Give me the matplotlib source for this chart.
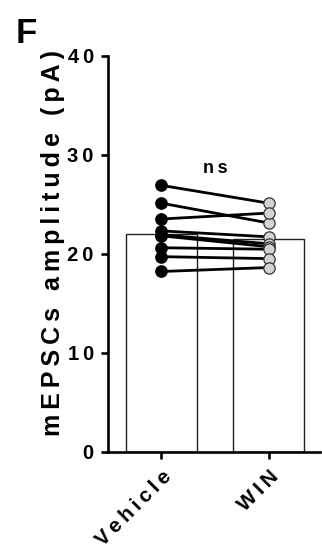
import numpy as np
import matplotlib
matplotlib.use('Agg')
import matplotlib.pyplot as plt

plt.rcParams['font.family'] = ['Liberation Sans', 'DejaVu Sans']
plt.rcParams['font.weight'] = 'bold'

# values
groups = ['Vehicle', 'WIN']
bar_means = [22.0, 21.45]
vehicle = [26.9, 25.1, 23.5, 22.3, 21.9, 21.8, 20.6, 19.7, 18.2]
win = [25.1, 23.1, 24.1, 21.7, 21.0, 20.7, 20.45, 19.5, 18.6]
yticks = [0, 10, 20, 30, 40]


def spaced(s):
    # GraphPad-style letter spacing
    return '\u2009'.join(s)


fig = plt.figure(figsize=(3.22, 5.52), dpi=100)
ax = fig.add_axes([0.3345, 0.1817, 0.66, 0.7175])

x = np.arange(len(groups))
ax.bar(x, bar_means, width=0.665, color='white', edgecolor='#222222',
       linewidth=1.0, zorder=1)

for v, w in zip(vehicle, win):
    ax.plot([0, 1], [v, w], color='black', lw=2.0, zorder=2)
ax.scatter(np.zeros(len(vehicle)), vehicle, s=66, color='black', zorder=3)
ax.scatter(np.ones(len(win)), win, s=66, facecolor='#d3d3d3',
           edgecolor='#333333', linewidth=0.9, zorder=3)

ax.text(0.5, 28.6, spaced('ns'), ha='center', va='center', fontsize=13,
        fontweight='bold')

ax.set_xlim(-0.5, 1.48)
ax.set_ylim(0, 40)
ax.set_yticks(yticks)
ax.set_yticklabels([spaced(str(t)) for t in yticks], fontsize=14.5,
                   fontweight='bold')
ax.set_xticks(x)
ax.set_xticklabels([spaced(g) for g in groups], rotation=45, ha='right',
                   va='top', rotation_mode='anchor', fontsize=15,
                   fontweight='bold')
ax.tick_params(axis='both', direction='out', length=5, width=1.9)
ax.tick_params(axis='y', pad=5)
ax.tick_params(axis='x', pad=6)

for side in ['top', 'right']:
    ax.spines[side].set_visible(False)
for side in ['left', 'bottom']:
    ax.spines[side].set_linewidth(1.9)

ax.set_ylabel(spaced('mEPSCs amplitude (pA)'), fontsize=18,
              fontweight='bold')
ax.yaxis.set_label_coords(-0.20, 0.526)

fig.text(0.05, 0.97, 'F', fontsize=25, fontweight='bold', va='top',
         ha='left')

fig.savefig('out.png', dpi=100)
